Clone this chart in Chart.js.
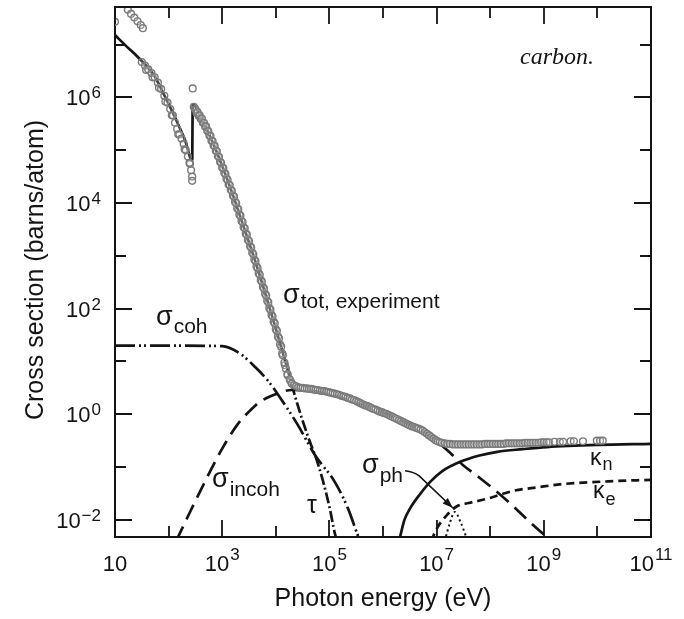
<!DOCTYPE html>
<html>
<head>
<meta charset="utf-8">
<script src="https://cdn.jsdelivr.net/npm/chart.js@4.4.0/dist/chart.umd.min.js"></script>
<style>
  html, body { margin: 0; padding: 0; background: #fff; }
  canvas { display: block; }
</style>
</head>
<body>
<canvas id="xs" width="684" height="619"></canvas>
<script>
// carbon photon cross sections
// every value below is log10(E / eV) or log10(sigma / barn)

// sigma_tot, experiment (open circles), main run
const expLogE = [
  1.00, 1.24, 1.30, 1.36, 1.42, 1.48, 1.52,
  1.50, 1.56, 1.62, 1.68, 1.74, 1.80, 1.86, 1.92, 1.98, 2.03, 2.08, 2.12, 2.16, 2.20, 2.24, 2.28, 2.32, 2.36, 2.39, 2.42, 2.44, 2.44,
  2.45,
  2.47, 2.50, 2.54, 2.58, 2.62, 2.66, 2.70, 2.74, 2.78, 2.82, 2.86, 2.90, 2.94, 2.98, 3.02, 3.06, 3.10, 3.14, 3.18, 3.22,
  3.26, 3.30, 3.34, 3.38, 3.42, 3.46, 3.50, 3.54, 3.58, 3.62, 3.66, 3.70, 3.74, 3.78, 3.82, 3.86, 3.90, 3.94, 3.98, 4.02,
  4.06, 4.10, 4.13, 4.16, 4.19, 4.22, 4.26, 4.30,
  4.34, 4.38, 4.42, 4.46, 4.50, 4.54, 4.58, 4.62, 4.66, 4.70, 4.74, 4.78, 4.82, 4.86, 4.90, 4.94, 4.98, 5.02, 5.06, 5.10,
  5.14, 5.18, 5.22, 5.26, 5.30, 5.34, 5.38, 5.42, 5.46, 5.50, 5.54, 5.58, 5.62, 5.66, 5.70, 5.74, 5.78, 5.82, 5.86, 5.90,
  5.94, 5.98, 6.02, 6.06, 6.10, 6.14, 6.18, 6.22, 6.26, 6.30, 6.34, 6.38, 6.42, 6.46, 6.50, 6.54, 6.58, 6.62, 6.66, 6.70,
  6.74, 6.78, 6.82, 6.86, 6.90, 6.94, 6.98, 7.02, 7.06, 7.10, 7.15,
  7.20, 7.25, 7.30, 7.35, 7.40, 7.45, 7.50, 7.55, 7.60, 7.65, 7.70, 7.75, 7.80, 7.85, 7.90, 7.95, 8.00, 8.05, 8.10, 8.15,
  8.20, 8.25, 8.30, 8.35, 8.40, 8.45, 8.50, 8.55, 8.60, 8.65, 8.70, 8.75, 8.80, 8.85, 8.90, 8.95, 9.00, 9.05, 9.10,
  9.20, 9.30, 9.36, 9.50, 9.56, 9.73, 9.99, 10.05, 10.10
];
const expLogS = [
  7.43, 7.66, 7.58, 7.51, 7.44, 7.37, 7.31,
  6.67, 6.60, 6.53, 6.46, 6.38, 6.28, 6.16, 6.03, 5.90, 5.78, 5.66, 5.52, 5.40, 5.30, 5.22, 5.12, 5.00, 4.88, 4.76, 4.62, 4.50, 4.42,
  6.17,
  5.82, 5.78, 5.72, 5.66, 5.60, 5.52, 5.45, 5.36, 5.27, 5.17, 5.08, 4.98, 4.87, 4.76, 4.66, 4.55, 4.44, 4.34, 4.23, 4.12,
  4.00, 3.88, 3.76, 3.64, 3.52, 3.40, 3.28, 3.16, 3.03, 2.90, 2.77, 2.64, 2.51, 2.38, 2.25, 2.12, 1.98, 1.85, 1.72, 1.58,
  1.44, 1.28, 1.12, 0.98, 0.86, 0.76, 0.66, 0.58,
  0.55, 0.53, 0.51, 0.50, 0.50, 0.49, 0.49, 0.48, 0.48, 0.47, 0.46, 0.46, 0.45, 0.44, 0.44, 0.43, 0.42, 0.41, 0.40, 0.39,
  0.38, 0.37, 0.35, 0.34, 0.33, 0.31, 0.30, 0.28, 0.27, 0.25, 0.23, 0.21, 0.19, 0.17, 0.16, 0.14, 0.12, 0.10, 0.09, 0.07,
  0.05, 0.04, 0.02, 0.01, -0.01, -0.03, -0.05, -0.07, -0.09, -0.11, -0.13, -0.15, -0.17, -0.19, -0.21, -0.23, -0.24, -0.26, -0.27, -0.29,
  -0.31, -0.34, -0.37, -0.40, -0.43, -0.46, -0.49, -0.51, -0.53, -0.54, -0.55,
  -0.56, -0.56, -0.57, -0.57, -0.57, -0.57, -0.57, -0.57, -0.57, -0.57, -0.57, -0.57, -0.57, -0.57, -0.56, -0.56, -0.56, -0.56, -0.56, -0.56,
  -0.56, -0.56, -0.55, -0.55, -0.55, -0.55, -0.55, -0.55, -0.55, -0.54, -0.54, -0.54, -0.54, -0.54, -0.54, -0.53, -0.53, -0.53, -0.53,
  -0.52, -0.52, -0.52, -0.51, -0.51, -0.51, -0.50, -0.50, -0.50
];

// sigma_tot, experiment, second run lying alongside the first on the steep part
const exp2LogE = [1.58, 1.70, 1.82, 1.94, 2.06, 2.18, 2.30, 2.40,
  2.52, 2.56, 2.60, 2.64, 2.68, 2.72, 2.76, 2.80, 2.84, 2.88, 2.92, 2.96, 3.00, 3.04, 3.08, 3.12, 3.16, 3.20,
  3.24, 3.28, 3.32, 3.36, 3.40, 3.44, 3.48, 3.52, 3.56, 3.60, 3.64, 3.68, 3.72, 3.76, 3.80, 3.84, 3.88, 3.92,
  3.96, 4.00, 4.04, 4.08, 4.12, 4.17, 4.22, 4.28];
const exp2LogS = [6.52, 6.38, 6.18, 5.92, 5.66, 5.30, 5.02, 4.74,
  5.71, 5.65, 5.59, 5.52, 5.45, 5.37, 5.28, 5.18, 5.09, 4.99, 4.89, 4.78, 4.67, 4.57, 4.46, 4.35, 4.25, 4.14,
  4.02, 3.90, 3.78, 3.66, 3.54, 3.42, 3.30, 3.18, 3.06, 2.93, 2.80, 2.67, 2.54, 2.41, 2.28, 2.15, 2.01, 1.88,
  1.75, 1.61, 1.47, 1.32, 1.15, 0.93, 0.74, 0.62];

// tau, atomic photoeffect (K edge at 284 eV)
const tauLogE = [1.0, 1.2, 1.43, 1.6, 1.75, 1.9, 2.06, 2.2, 2.31, 2.44, 2.45, 2.6, 2.8, 3.0, 3.2, 3.4, 3.6, 3.8, 4.0, 4.2, 4.4, 4.6, 4.8, 5.0, 5.1, 5.14];
const tauLogS = [7.18, 6.98, 6.76, 6.58, 6.38, 6.08, 5.75, 5.44, 5.18, 4.80, 5.87, 5.62, 5.20, 4.70, 4.15, 3.55, 2.95, 2.30, 1.62, 0.92, 0.20, -0.42, -0.98, -1.75, -2.25, -2.40];

// sigma_coh, Rayleigh
const cohLogE = [1.0, 2.0, 3.0, 3.33, 3.61, 3.85, 4.13, 4.41, 4.73, 5.10, 5.35, 5.53, 5.58];
const cohLogS = [1.30, 1.30, 1.29, 1.15, 0.90, 0.64, 0.24, -0.20, -0.77, -1.28, -1.79, -2.29, -2.40];

// sigma_incoh, Compton
const incohLogE = [2.14, 2.40, 2.77, 3.00, 3.28, 3.50, 3.71, 4.02, 4.30, 4.60, 5.00, 5.50, 6.00, 6.50, 6.88, 7.20, 7.49, 7.80, 8.13, 8.45, 8.74, 9.14];
const incohLogS = [-2.40, -1.85, -1.09, -0.65, -0.20, 0.05, 0.24, 0.39, 0.46, 0.45, 0.38, 0.22, 0.03, -0.20, -0.42, -0.68, -0.96, -1.20, -1.47, -1.76, -2.04, -2.40];

// sigma_ph, photonuclear
const phLogE = [7.15, 7.25, 7.34, 7.45, 7.58];
const phLogS = [-2.40, -2.05, -1.85, -2.05, -2.40];

// kappa_n, pair production in nuclear field
const knLogE = [6.30, 6.40, 6.50, 6.70, 6.88, 7.10, 7.44, 7.80, 8.13, 8.60, 9.06, 10.0, 11.0];
const knLogS = [-2.40, -2.00, -1.79, -1.50, -1.28, -1.08, -0.90, -0.78, -0.71, -0.66, -0.62, -0.58, -0.56];

// kappa_e, pair production in electron field
const keLogE = [6.90, 7.00, 7.20, 7.38, 7.60, 7.94, 8.43, 8.90, 9.36, 10.2, 11.0];
const keLogS = [-2.40, -2.17, -1.90, -1.74, -1.68, -1.60, -1.45, -1.38, -1.32, -1.27, -1.24];

// tick exponents
const xTickExp = [1, 2, 3, 4, 5, 6, 7, 8, 9, 10, 11];
const xLabelExp = [1, 3, 5, 7, 9, 11];
const yTickExp = [-2, -1, 0, 1, 2, 3, 4, 5, 6, 7];
const yLabelExp = [-2, 0, 2, 4, 6];

const pts = (le, ls) => le.map((v, i) => ({ x: Math.pow(10, v), y: Math.pow(10, ls[i]) }));

const INK = '#141414';
const SANS = '"Liberation Sans", Arial, Helvetica, sans-serif';

function curve(label, le, ls, dash, extra) {
  return Object.assign({
    label: label,
    data: pts(le, ls),
    showLine: true,
    borderColor: INK,
    borderWidth: 2.7,
    borderDash: dash,
    pointRadius: 0,
    cubicInterpolationMode: 'monotone',
    clip: 0
  }, extra || {});
}

function circles(label, le, ls) {
  return {
    label: label,
    data: pts(le, ls),
    showLine: false,
    pointStyle: 'circle',
    pointRadius: 3.4,
    pointBorderWidth: 1.4,
    borderColor: '#7a7a7a',
    backgroundColor: 'rgba(255,255,255,0.2)',
    clip: 0
  };
}

const SUP = { '-': '\u2212' };
function supLabel(e) {
  return e === 1 ? ['10', ''] : ['10', String(e).split('').map(c => SUP[c] || c).join('')];
}

function drawSub(ctx, main, sub, x, y, mainSize, subSize, dy) {
  ctx.font = mainSize + 'px ' + SANS;
  ctx.textAlign = 'left';
  ctx.textBaseline = 'alphabetic';
  ctx.fillText(main, x, y);
  const w = ctx.measureText(main).width;
  ctx.font = subSize + 'px ' + SANS;
  ctx.fillText(sub, x + w + 1, y + dy);
}

const decor = {
  id: 'decor',
  afterDraw(chart) {
    const { ctx, chartArea: a, scales: { x, y } } = chart;
    ctx.save();
    ctx.strokeStyle = INK;
    ctx.fillStyle = INK;

    // top and right frame
    ctx.lineWidth = 2;
    ctx.beginPath();
    ctx.moveTo(a.left, a.top);
    ctx.lineTo(a.right, a.top);
    ctx.lineTo(a.right, a.bottom);
    ctx.stroke();

    // inward ticks on all four sides
    ctx.lineWidth = 1.8;
    ctx.beginPath();
    xTickExp.forEach(e => {
      const px = Math.round(x.getPixelForValue(Math.pow(10, e)));
      const len = xLabelExp.includes(e) ? 17 : 11;
      ctx.moveTo(px, a.bottom); ctx.lineTo(px, a.bottom - len);
      ctx.moveTo(px, a.top); ctx.lineTo(px, a.top + len);
    });
    yTickExp.forEach(e => {
      const py = Math.round(y.getPixelForValue(Math.pow(10, e)));
      const len = yLabelExp.includes(e) ? 17 : 11;
      ctx.moveTo(a.left, py); ctx.lineTo(a.left + len, py);
      ctx.moveTo(a.right, py); ctx.lineTo(a.right - len, py);
    });
    ctx.stroke();

    // tick labels 10^n
    ctx.textBaseline = 'alphabetic';
    ctx.textAlign = 'left';
    xLabelExp.forEach(e => {
      const px = x.getPixelForValue(Math.pow(10, e));
      const [b, s] = supLabel(e);
      ctx.font = '22px ' + SANS;
      const wb = ctx.measureText(b).width;
      ctx.font = '17px ' + SANS;
      const ws = s ? ctx.measureText(s).width + 1 : 0;
      const x0 = px - (wb + ws) / 2;
      ctx.font = '22px ' + SANS;
      ctx.fillText(b, x0, 571);
      if (s) { ctx.font = '17px ' + SANS; ctx.fillText(s, x0 + wb + 1, 560); }
    });
    yLabelExp.forEach(e => {
      const py = y.getPixelForValue(Math.pow(10, e));
      const [b, s] = supLabel(e);
      ctx.font = '17px ' + SANS;
      const ws = ctx.measureText(s).width + 1;
      ctx.font = '22px ' + SANS;
      const wb = ctx.measureText(b).width;
      const x0 = 101 - ws - wb;
      ctx.fillText(b, x0, py + 8);
      ctx.font = '17px ' + SANS;
      ctx.fillText(s, x0 + wb + 1, py + 1);
    });

    // axis titles
    ctx.font = '25px ' + SANS;
    ctx.textAlign = 'center';
    ctx.fillText('Photon energy (eV)', 383, 606);
    ctx.save();
    ctx.translate(43, 270);
    ctx.rotate(-Math.PI / 2);
    ctx.fillText('Cross section (barns/atom)', 0, 0);
    ctx.restore();

    // curve labels
    drawSub(ctx, '\u03c3', 'tot, experiment', 283, 303, 27, 21, 5);
    drawSub(ctx, '\u03c3', 'coh', 156, 325, 27, 21, 8);
    drawSub(ctx, '\u03c3', 'incoh', 212, 487, 27, 21, 9);
    drawSub(ctx, '\u03c3', 'ph', 362, 473, 27, 21, 9);
    drawSub(ctx, '\u03ba', 'n', 590, 465, 23, 18, 5);
    drawSub(ctx, '\u03ba', 'e', 593, 498, 23, 18, 7);
    ctx.font = '25px ' + SANS;
    ctx.textAlign = 'left';
    ctx.fillText('\u03c4', 307, 513);

    ctx.font = 'italic 24px "Liberation Serif", "Times New Roman", serif';
    ctx.fillText('carbon.', 520, 64);

    // arrow from sigma_ph label to the photonuclear peak
    const P = (le, ls) => [x.getPixelForValue(Math.pow(10, le)), y.getPixelForValue(Math.pow(10, ls))];
    const p0 = P(6.41, -1.07), p1 = P(6.58, -1.09), p2 = P(6.68, -1.17), tip = P(7.30, -1.77);
    ctx.lineWidth = 1.6;
    ctx.beginPath();
    ctx.moveTo(p0[0], p0[1]);
    ctx.quadraticCurveTo(p1[0], p1[1], p2[0], p2[1]);
    ctx.lineTo(tip[0], tip[1]);
    ctx.stroke();
    const ang = Math.atan2(tip[1] - p2[1], tip[0] - p2[0]);
    ctx.beginPath();
    ctx.moveTo(tip[0], tip[1]);
    ctx.lineTo(tip[0] - 11 * Math.cos(ang - 0.35), tip[1] - 11 * Math.sin(ang - 0.35));
    ctx.lineTo(tip[0] - 11 * Math.cos(ang + 0.35), tip[1] - 11 * Math.sin(ang + 0.35));
    ctx.closePath();
    ctx.fill();

    ctx.restore();
  }
};

new Chart(document.getElementById('xs'), {
  type: 'scatter',
  data: {
    datasets: [
      circles('sigma_tot, experiment', expLogE, expLogS),
      circles('sigma_tot, experiment (2)', exp2LogE, exp2LogS),
      curve('tau', tauLogE, tauLogS, [], {
        segment: {
          borderDash: c => c.p0.parsed.x >= Math.pow(10, 4.19) ? [11, 3, 2, 3] : undefined
        }
      }),
      curve('sigma_coh', cohLogE, cohLogS, [20, 4, 2, 3, 2, 4]),
      curve('sigma_incoh', incohLogE, incohLogS, [16, 8]),
      curve('sigma_ph', phLogE, phLogS, [2, 3], { borderWidth: 2 }),
      curve('kappa_n', knLogE, knLogS, []),
      curve('kappa_e', keLogE, keLogS, [8, 5])
    ]
  },
  options: {
    responsive: false,
    animation: false,
    devicePixelRatio: 1,
    layout: { padding: { left: 115, right: 33, top: 7, bottom: 82 } },
    plugins: { legend: { display: false }, tooltip: { enabled: false } },
    scales: {
      x: {
        type: 'logarithmic',
        min: 10,
        max: 1e11,
        ticks: { display: false },
        grid: { display: false, drawTicks: false },
        border: { display: true, color: INK, width: 2 }
      },
      y: {
        type: 'logarithmic',
        min: Math.pow(10, -2.323),
        max: Math.pow(10, 7.711),
        ticks: { display: false },
        grid: { display: false, drawTicks: false },
        border: { display: true, color: INK, width: 2 }
      }
    }
  },
  plugins: [decor]
});
</script>
</body>
</html>
